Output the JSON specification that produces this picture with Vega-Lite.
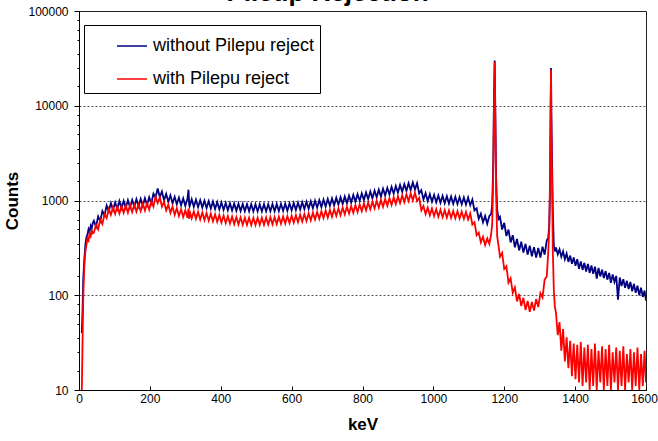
{
  "$schema": "https://vega.github.io/schema/vega-lite/v6.json",
  "width": 567,
  "height": 379,
  "autosize": {"type": "none"},
  "padding": {"left": 79, "top": 11, "right": 12, "bottom": 51},
  "background": "white",
  "title": {"text": "Pileup Rejection", "font": "Liberation Sans", "fontSize": 26, "fontWeight": "bold", "color": "black", "anchor": "middle", "frame": "group", "offset": -1, "dx": -35},
  "config": {
    "view": {"stroke": "#222", "strokeWidth": 1},
    "axis": {"labelFont": "Liberation Sans", "labelFontSize": 12, "labelColor": "black", "titleFont": "Liberation Sans", "titleFontSize": 17, "titleFontWeight": "bold", "titleColor": "black", "domainColor": "black", "tickColor": "black"}
  },
  "data": {"values": [
    {"e":8,"b":40,"r":10},{"e":10,"b":70,"r":32},{"e":12,"b":150,"r":95},{"e":15,"b":240,"r":200},{"e":18,"b":340,"r":290},{"e":21,"b":410,"r":340},{"e":24,"b":440,"r":400},{"e":27,"b":500,"r":380},{"e":30,"b":470,"r":450},{"e":33,"b":540,"r":420},{"e":36,"b":510,"r":480},{"e":39,"b":580,"r":450},
    {"e":42,"b":610,"r":458},{"e":48,"b":530,"r":556},{"e":54,"b":680,"r":495},{"e":60,"b":605,"r":630},{"e":66,"b":775,"r":565},{"e":72,"b":695,"r":720},{"e":78,"b":885,"r":650},{"e":84,"b":768,"r":815},{"e":90,"b":940,"r":705},{"e":96,"b":795,"r":850},
    {"e":102,"b":955,"r":722},{"e":108,"b":815,"r":868},{"e":114,"b":985,"r":730},{"e":120,"b":828,"r":875},{"e":126,"b":990,"r":742},{"e":132,"b":838,"r":890},{"e":138,"b":1005,"r":745},{"e":144,"b":846,"r":895},{"e":150,"b":1015,"r":755},{"e":156,"b":860,"r":905},
    {"e":162,"b":1030,"r":765},{"e":168,"b":870,"r":915},{"e":174,"b":1040,"r":773},{"e":180,"b":878,"r":928},{"e":186,"b":1058,"r":782},{"e":192,"b":897,"r":943},{"e":198,"b":1080,"r":800},{"e":204,"b":933,"r":982},{"e":210,"b":1178,"r":860},{"e":216,"b":1080,"r":1100},
    {"e":222,"b":1340,"r":942},{"e":228,"b":1088,"r":1080},{"e":234,"b":1243,"r":860},{"e":240,"b":1006,"r":970},{"e":246,"b":1177,"r":787},{"e":252,"b":970,"r":905},{"e":258,"b":1134,"r":741},{"e":264,"b":933,"r":861},{"e":270,"b":1095,"r":705},{"e":276,"b":910,"r":828},
    {"e":282,"b":1074,"r":686},{"e":288,"b":892,"r":807},{"e":294,"b":1052,"r":668},{"e":300,"b":878,"r":790},{"e":306,"b":1041,"r":659},{"e":309,"b":1300,"r":820},{"e":311,"b":900,"r":640},{"e":312,"b":869,"r":779},{"e":318,"b":1030,"r":650},{"e":324,"b":860,"r":768},
    {"e":330,"b":1019,"r":640},{"e":336,"b":851,"r":758},{"e":342,"b":1008,"r":631},{"e":348,"b":842,"r":747},{"e":354,"b":997,"r":622},{"e":360,"b":833,"r":736},{"e":366,"b":986,"r":613},{"e":372,"b":824,"r":725},{"e":378,"b":976,"r":604},{"e":384,"b":814,"r":714},
    {"e":390,"b":965,"r":595},{"e":396,"b":805,"r":703},{"e":402,"b":954,"r":586},{"e":408,"b":796,"r":693},{"e":414,"b":944,"r":578},{"e":420,"b":789,"r":685},{"e":426,"b":935,"r":571},{"e":432,"b":782,"r":676},{"e":438,"b":929,"r":565},{"e":444,"b":778,"r":669},
    {"e":450,"b":924,"r":559},{"e":456,"b":774,"r":664},{"e":462,"b":920,"r":555},{"e":468,"b":770,"r":659},{"e":474,"b":917,"r":553},{"e":480,"b":769,"r":657},{"e":486,"b":915,"r":551},{"e":492,"b":767,"r":656},{"e":498,"b":913,"r":551},{"e":504,"b":767,"r":657},
    {"e":510,"b":913,"r":553},{"e":516,"b":767,"r":659},{"e":522,"b":915,"r":554},{"e":528,"b":768,"r":662},{"e":534,"b":916,"r":557},{"e":540,"b":769,"r":665},{"e":546,"b":917,"r":560},{"e":552,"b":770,"r":669},{"e":558,"b":919,"r":564},{"e":564,"b":772,"r":674},
    {"e":570,"b":922,"r":567},{"e":576,"b":776,"r":678},{"e":582,"b":927,"r":572},{"e":588,"b":780,"r":685},{"e":594,"b":933,"r":577},{"e":600,"b":787,"r":691},{"e":606,"b":942,"r":584},{"e":612,"b":794,"r":700},{"e":618,"b":950,"r":591},{"e":624,"b":802,"r":709},
    {"e":630,"b":959,"r":599},{"e":636,"b":810,"r":719},{"e":642,"b":970,"r":608},{"e":648,"b":819,"r":730},{"e":654,"b":981,"r":619},{"e":660,"b":829,"r":743},{"e":666,"b":994,"r":630},{"e":672,"b":840,"r":756},{"e":678,"b":1007,"r":641},{"e":684,"b":851,"r":770},
    {"e":690,"b":1021,"r":651},{"e":696,"b":864,"r":783},{"e":702,"b":1037,"r":662},{"e":708,"b":877,"r":796},{"e":714,"b":1052,"r":674},{"e":720,"b":889,"r":811},{"e":726,"b":1068,"r":687},{"e":732,"b":904,"r":826},{"e":738,"b":1086,"r":700},{"e":744,"b":919,"r":841},
    {"e":750,"b":1103,"r":713},{"e":756,"b":934,"r":857},{"e":762,"b":1123,"r":727},{"e":768,"b":952,"r":874},{"e":774,"b":1145,"r":741},{"e":780,"b":970,"r":892},{"e":786,"b":1167,"r":756},{"e":792,"b":990,"r":910},{"e":798,"b":1191,"r":772},{"e":804,"b":1011,"r":930},
    {"e":810,"b":1218,"r":789},{"e":816,"b":1033,"r":949},{"e":822,"b":1244,"r":805},{"e":828,"b":1056,"r":970},{"e":834,"b":1272,"r":824},{"e":840,"b":1080,"r":992},{"e":846,"b":1300,"r":842},{"e":852,"b":1103,"r":1014},{"e":858,"b":1330,"r":860},{"e":864,"b":1129,"r":1036},
    {"e":870,"b":1360,"r":878},{"e":876,"b":1155,"r":1058},{"e":882,"b":1392,"r":899},{"e":888,"b":1182,"r":1082},{"e":894,"b":1425,"r":919},{"e":900,"b":1210,"r":1106},{"e":906,"b":1457,"r":940},{"e":912,"b":1237,"r":1133},{"e":918,"b":1490,"r":962},{"e":924,"b":1265,"r":1159},
    {"e":930,"b":1523,"r":984},{"e":936,"b":1290,"r":1185},{"e":942,"b":1553,"r":1005},{"e":948,"b":1308,"r":1204},{"e":954,"b":1526,"r":988},{"e":960,"b":1190,"r":1068},{"e":966,"b":1286,"r":787},{"e":972,"b":1025,"r":872},{"e":978,"b":1194,"r":718},{"e":984,"b":988,"r":841},
    {"e":990,"b":1166,"r":697},{"e":996,"b":970,"r":823},{"e":1002,"b":1147,"r":684},{"e":1008,"b":956,"r":809},{"e":1014,"b":1131,"r":674},{"e":1020,"b":944,"r":799},{"e":1026,"b":1119,"r":667},{"e":1032,"b":935,"r":790},{"e":1038,"b":1110,"r":661},{"e":1044,"b":928,"r":784},
    {"e":1050,"b":1101,"r":655},{"e":1056,"b":920,"r":777},{"e":1062,"b":1093,"r":650},{"e":1068,"b":915,"r":771},{"e":1074,"b":1087,"r":644},{"e":1080,"b":910,"r":764},{"e":1086,"b":1080,"r":639},{"e":1092,"b":904,"r":758},{"e":1098,"b":1074,"r":631},{"e":1104,"b":892,"r":730},
    {"e":1110,"b":1025,"r":558},{"e":1116,"b":787,"r":589},{"e":1122,"b":828,"r":430},{"e":1128,"b":640,"r":458},{"e":1134,"b":725,"r":361},{"e":1140,"b":590,"r":414},{"e":1146,"b":687,"r":339},{"e":1152,"b":567,"r":398},{"e":1158,"b":687,"r":348},
    {"e":1163,"b":720,"r":440},{"e":1166,"b":900,"r":560},{"e":1169,"b":2500,"r":2000},{"e":1171,"b":12000,"r":10000},{"e":1173,"b":30000,"r":29000},{"e":1175,"b":8000,"r":6000},{"e":1177,"b":1800,"r":1200},{"e":1180,"b":800,"r":420},{"e":1184,"b":640,"r":330},
    {"e":1188,"b":672,"r":255},{"e":1194,"b":493,"r":280},{"e":1200,"b":582,"r":189},{"e":1206,"b":422,"r":202},{"e":1212,"b":493,"r":136},{"e":1218,"b":361,"r":151},{"e":1224,"b":431,"r":106},{"e":1230,"b":321,"r":121},{"e":1236,"b":392,"r":86},{"e":1242,"b":297,"r":103},
    {"e":1248,"b":367,"r":77},{"e":1254,"b":282,"r":94},{"e":1260,"b":349,"r":70},{"e":1266,"b":268,"r":87},{"e":1272,"b":334,"r":67},{"e":1278,"b":257,"r":85},{"e":1284,"b":322,"r":69},{"e":1290,"b":250,"r":91},{"e":1296,"b":316,"r":75},{"e":1302,"b":250,"r":105},
    {"e":1308,"b":325,"r":95},{"e":1314,"b":268,"r":146},{"e":1320,"b":380,"r":158},{"e":1324,"b":400,"r":280},{"e":1327,"b":550,"r":500},{"e":1329,"b":1200,"r":1500},{"e":1331,"b":10000,"r":10000},{"e":1332,"b":25000,"r":24000},{"e":1333,"b":8000,"r":6000},{"e":1335,"b":2500,"r":1500},
    {"e":1337,"b":800,"r":300},{"e":1340,"b":330,"r":110},{"e":1343,"b":290,"r":75},
    {"e":1346,"b":320,"r":65},{"e":1351,"b":270,"r":38},{"e":1356,"b":305,"r":52},{"e":1361,"b":255,"r":26},{"e":1366,"b":290,"r":44},{"e":1371,"b":240,"r":20},{"e":1376,"b":275,"r":36},{"e":1381,"b":225,"r":17},{"e":1386,"b":262,"r":33},{"e":1391,"b":215,"r":14},
    {"e":1396,"b":250,"r":31},{"e":1401,"b":205,"r":13},{"e":1406,"b":240,"r":30},{"e":1411,"b":190,"r":12},{"e":1416,"b":228,"r":32},{"e":1421,"b":185,"r":11},{"e":1426,"b":220,"r":28},{"e":1431,"b":178,"r":12},{"e":1436,"b":214,"r":30},{"e":1441,"b":172,"r":10},
    {"e":1446,"b":206,"r":27},{"e":1451,"b":168,"r":11},{"e":1456,"b":200,"r":31},{"e":1461,"b":150,"r":10},{"e":1466,"b":194,"r":26},{"e":1471,"b":158,"r":12},{"e":1476,"b":186,"r":29},{"e":1481,"b":152,"r":10},{"e":1486,"b":180,"r":27},{"e":1491,"b":146,"r":11},
    {"e":1496,"b":172,"r":30},{"e":1501,"b":135,"r":10},{"e":1506,"b":166,"r":25},{"e":1511,"b":138,"r":12},{"e":1516,"b":160,"r":28},{"e":1521,"b":90,"r":10},{"e":1526,"b":154,"r":26},{"e":1531,"b":125,"r":11},{"e":1536,"b":148,"r":29},{"e":1541,"b":120,"r":10},
    {"e":1546,"b":142,"r":24},{"e":1551,"b":116,"r":12},{"e":1556,"b":138,"r":27},{"e":1561,"b":110,"r":10},{"e":1566,"b":132,"r":25},{"e":1571,"b":106,"r":11},{"e":1576,"b":126,"r":28},{"e":1581,"b":100,"r":10},{"e":1586,"b":120,"r":24},{"e":1591,"b":96,"r":11},
    {"e":1596,"b":112,"r":26},{"e":1600,"b":88,"r":12}
  ]},
  "transform": [{"fold": ["b", "r"], "as": ["s", "c"]}],
  "mark": {"type": "line", "strokeWidth": 1.8, "clip": true},
  "encoding": {
    "x": {"field": "e", "type": "quantitative", "title": "keV",
      "scale": {"domain": [0, 1600], "nice": false, "zero": false},
      "axis": {"values": [0,200,400,600,800,1000,1200,1400,1600], "format": "d", "grid": false, "tickSize": -4, "labelPadding": 7, "titlePadding": 12, "labelFlush": false, "labelOverlap": false,
        "labelOffset": {"condition": {"test": "datum.value == 1600", "value": -2}, "value": 0}}},
    "y": {"field": "c", "type": "quantitative", "title": "Counts",
      "scale": {"type": "log", "domain": [10, 100000], "nice": false},
      "axis": {
        "values": [10,16,25,35,50,63,80,100,160,250,350,500,630,800,1000,1600,2500,3500,5000,6300,8000,10000,16000,25000,35000,50000,63000,80000,100000],
        "format": "d",
        "labelExpr": "indexof([10,100,1000,10000,100000], datum.value) >= 0 ? datum.label : ''",
        "labelOverlap": false, "labelFlush": false,
        "tickSize": {"condition": {"test": "indexof([10,100,1000,10000,100000], datum.value) >= 0", "value": 5}, "value": 2},
        "labelPadding": 6,
        "grid": true, "gridColor": "#555", "gridDash": [2, 2], "gridWidth": 1,
        "gridOpacity": {"condition": {"test": "indexof([100,1000,10000], datum.value) >= 0", "value": 1}, "value": 0},
        "titlePadding": 6}},
    "color": {"field": "s", "type": "nominal",
      "scale": {"domain": ["b", "r"], "range": ["#000080", "#ff0000"]},
      "legend": {"orient": "none", "legendX": 5, "legendY": 14, "title": null, "direction": "vertical",
        "fillColor": "white", "strokeColor": "black", "padding": 5,
        "symbolType": "stroke", "symbolSize": 900, "symbolStrokeWidth": 1.5, "symbolOffset": 27,
        "labelFont": "Liberation Sans", "labelFontSize": 18, "labelColor": "black", "labelLimit": 400, "labelOffset": 5, "rowPadding": 8,
        "labelExpr": "datum.value == 'b' ? 'without Pilepu reject      ' : 'with Pilepu reject'"}}
  }
}
